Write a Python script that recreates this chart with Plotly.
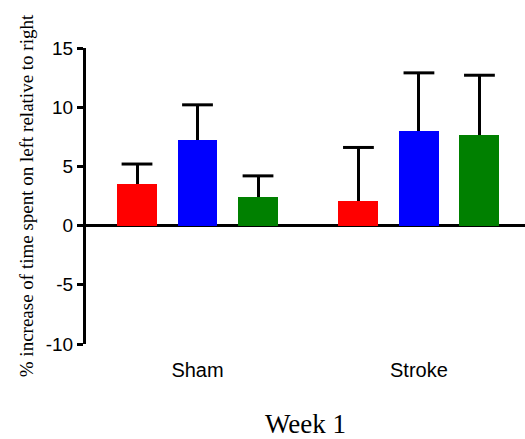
import plotly.graph_objects as go

groups = ["Sham", "Stroke"]
series_names = ["Group A", "Group B", "Group C"]
colors = ["#FF0000", "#0000FF", "#008000"]
means = {
    "Group A": [3.53, 2.09],
    "Group B": [7.26, 8.02],
    "Group C": [2.43, 7.65],
}
errors = {
    "Group A": [1.67, 4.51],
    "Group B": [2.94, 4.88],
    "Group C": [1.77, 5.05],
}
y_ticks = [-10, -5, 0, 5, 10, 15]
y_tick_labels = ["-10", "-5", "0", "5", "10", "15"]

GROUP_SPACING = 3.66
BAR_WIDTH = 0.66

fig = go.Figure()
for s, name in enumerate(series_names):
    xs = [g * GROUP_SPACING + (s - 1) for g in range(len(groups))]
    m = means[name]
    e = errors[name]
    fig.add_trace(go.Bar(
        x=xs, y=m, width=BAR_WIDTH, name=name,
        marker=dict(color=colors[s], line=dict(width=0)),
        error_y=dict(type="data", symmetric=False, array=e,
                     arrayminus=[0] * len(e), width=0, thickness=3,
                     color="black"),
        showlegend=False,
    ))
    fig.add_trace(go.Scatter(
        x=xs, y=[a + b for a, b in zip(m, e)], mode="markers",
        marker=dict(symbol="line-ew", size=22,
                    line=dict(width=3, color="black")),
        showlegend=False, hoverinfo="skip",
    ))

centers = [g * GROUP_SPACING for g in range(len(groups))]

fig.update_layout(
    width=525, height=439,
    margin=dict(l=86, r=0, t=48, b=95),
    plot_bgcolor="white", paper_bgcolor="white",
    showlegend=False,
    bargap=0,
    xaxis=dict(
        range=[-1.843, 5.413],
        tickmode="array", tickvals=centers, ticktext=groups,
        showline=False, showgrid=False, zeroline=False,
        ticks="outside", ticklen=8, tickcolor="rgba(0,0,0,0)",
        tickfont=dict(family="Liberation Sans", size=20, color="black"),
        title=dict(text="Week 1", standoff=35,
                   font=dict(family="Liberation Serif", size=27, color="black")),
    ),
    yaxis=dict(
        range=[-10, 15],
        tickmode="array", tickvals=y_ticks, ticktext=y_tick_labels,
        showline=True, linewidth=3, linecolor="black",
        ticks="outside", ticklen=6, tickwidth=3, tickcolor="black",
        showgrid=False,
        zeroline=True, zerolinewidth=3, zerolinecolor="black",
        tickfont=dict(family="Liberation Sans", size=19, color="black"),
        title=dict(text="% increase of time spent on left relative to right",
                   standoff=8,
                   font=dict(family="Liberation Serif", size=19, color="black")),
    ),
)

fig.write_html("out.html")
